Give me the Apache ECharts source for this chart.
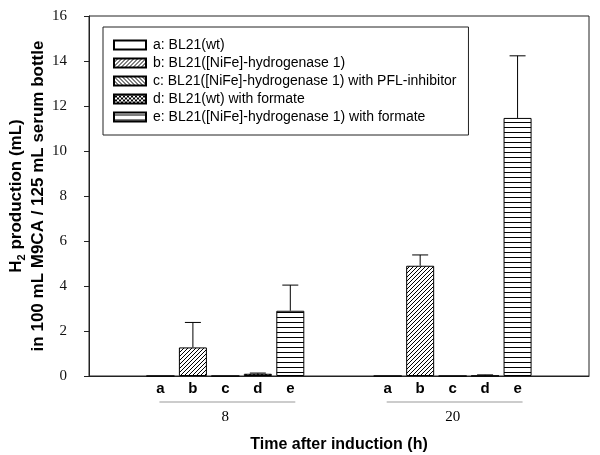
<!DOCTYPE html>
<html>
<head>
<meta charset="utf-8">
<script src="https://cdn.jsdelivr.net/npm/echarts@6/dist/echarts.min.js"></script>
<style>
  html, body { margin: 0; padding: 0; background: #fff; }
  #chart { width: 600px; height: 455px; }
</style>
</head>
<body>
<div id="chart"></div>
<script>
// ---------- data ----------
const groups = ['8', '20'];                       // time after induction (h)
const letters = ['a', 'b', 'c', 'd', 'e'];
const legendNames = [
  'a: BL21(wt)',
  'b: BL21([NiFe]-hydrogenase 1)',
  'c: BL21([NiFe]-hydrogenase 1) with PFL-inhibitor',
  'd: BL21(wt) with formate',
  'e: BL21([NiFe]-hydrogenase 1) with formate'
];
const meanA = [0, 0];
const meanB = [1.27, 4.9];
const meanC = [0, 0];
const meanD = [0.1, 0.01];
const meanE = [2.9, 11.47];
const errA = [0, 0];
const errB = [1.11, 0.48];
const errC = [0, 0];
const errD = [0.03, 0.04];
const errE = [1.14, 2.76];
const yTicks = [0, 2, 4, 6, 8, 10, 12, 14, 16];

const means = [meanA, meanB, meanC, meanD, meanE];
const errs = [errA, errB, errC, errD, errE];

// ---------- layout helpers ----------
const groupSpan = 7;   // slots per group (5 bars + 2 gap)
function pos(gi, li) { return gi * groupSpan + li; }

// ---------- patterns ----------
function makePattern(kind) {
  const c = document.createElement('canvas');
  let w = 4, h = 4;
  if (kind === 'e') { w = 4; h = 5; }
  c.width = w; c.height = h;
  const ctx = c.getContext('2d');
  ctx.fillStyle = '#fff';
  ctx.fillRect(0, 0, w, h);
  ctx.fillStyle = '#000';
  if (kind === 'b') {
    for (let i = 0; i < 4; i++) ctx.fillRect(3 - i, i, 1, 1);
  } else if (kind === 'c') {
    for (let i = 0; i < 4; i++) ctx.fillRect(i, i, 1, 1);
  } else if (kind === 'd') {
    for (let i = 0; i < 4; i++) { ctx.fillRect(i, i, 1, 1); ctx.fillRect(3 - i, i, 1, 1); }
  } else if (kind === 'e') {
    ctx.fillRect(0, 2, w, 1);
  }
  return { image: c, repeat: 'repeat' };
}

const barSeries = letters.map((l, li) => ({
  name: legendNames[li],
  type: 'bar',
  barWidth: 28,
  barGap: '-100%',
  data: groups.map((g, gi) => [pos(gi, li), means[li][gi]]),
  itemStyle: {
    color: makePattern(l),
    borderColor: '#000',
    borderWidth: 1
  },
  emphasis: { disabled: true },
  animation: false,
  z: 2
}));

const errData = [];
letters.forEach((l, li) => {
  groups.forEach((g, gi) => {
    if (errs[li][gi] > 0) errData.push([pos(gi, li), means[li][gi], means[li][gi] + errs[li][gi]]);
  });
});

const errSeries = {
  type: 'custom',
  name: 'err',
  data: errData,
  z: 3,
  animation: false,
  renderItem: function (params, api) {
    const x = api.value(0);
    const p1 = api.coord([x, api.value(1)]);
    const p2 = api.coord([x, api.value(2)]);
    const cap = 8;
    const st = { stroke: '#000', lineWidth: 1 };
    return {
      type: 'group',
      children: [
        { type: 'line', shape: { x1: p1[0], y1: p1[1], x2: p2[0], y2: p2[1] }, style: st },
        { type: 'line', shape: { x1: p2[0] - cap, y1: p2[1], x2: p2[0] + cap, y2: p2[1] }, style: st }
      ]
    };
  }
};

const underlineSeries = {
  type: 'custom',
  name: 'underline',
  clip: false,
  z: 3,
  animation: false,
  data: groups.map((g, gi) => [pos(gi, 0), pos(gi, letters.length - 1)]),
  renderItem: function (params, api) {
    const a = api.coord([api.value(0), 0]);
    const b = api.coord([api.value(1), 0]);
    return {
      type: 'line',
      shape: { x1: a[0] - 1, y1: a[1] + 26, x2: b[0] + 5, y2: b[1] + 26 },
      style: { stroke: '#999', lineWidth: 1 }
    };
  }
};

const letterValues = [];
const letterMap = {};
groups.forEach((g, gi) => letters.forEach((l, li) => { letterValues.push(pos(gi, li)); letterMap[pos(gi, li)] = l; }));
const groupValues = groups.map((g, gi) => pos(gi, 2));
const groupMap = {};
groups.forEach((g, gi) => { groupMap[pos(gi, 2)] = g; });

const chart = echarts.init(document.getElementById('chart'), null, { renderer: 'canvas' });
chart.setOption({
  animation: false,
  backgroundColor: '#fff',
  grid: {
    left: 89, top: 16, width: 500, height: 360,
    containLabel: false,
    outerBoundsMode: 'none',
    show: true, borderColor: '#222', borderWidth: 1, backgroundColor: 'transparent'
  },
  legend: {
    data: legendNames,
    orient: 'vertical',
    left: 103, top: 27,
    padding: [11, 12, 11, 10],
    borderColor: '#222', borderWidth: 1,
    icon: 'rect',
    itemWidth: 32, itemHeight: 9, itemGap: 4,
    selectedMode: false,
    textStyle: { fontFamily: 'Liberation Sans', fontSize: 14, color: '#000', lineHeight: 14, padding: [0, 0, 0, 2] }
  },
  xAxis: [
    {
      type: 'value', min: -2.2, max: 13.2,
      axisLine: { show: true, lineStyle: { color: '#222' } },
      axisTick: { show: false },
      splitLine: { show: false },
      axisLabel: {
        customValues: letterValues,
        formatter: v => letterMap[v] || '',
        margin: 5,
        fontFamily: 'Liberation Sans', fontWeight: 'bold', fontSize: 15, color: '#000'
      }
    },
    {
      type: 'value', min: -2.2, max: 13.2, position: 'bottom', offset: 0,
      axisLine: { show: false },
      axisTick: { show: false },
      splitLine: { show: false },
      axisLabel: {
        customValues: groupValues,
        formatter: v => groupMap[v] || '',
        margin: 34,
        fontFamily: 'Liberation Serif', fontSize: 15, color: '#000'
      },
      name: 'Time after induction (h)',
      nameLocation: 'middle',
      nameGap: 61,
      nameMoveOverlap: false,
      nameTextStyle: { fontFamily: 'Liberation Sans', fontWeight: 'bold', fontSize: 16, color: '#000' }
    }
  ],
  yAxis: {
    type: 'value', min: 0, max: 16, interval: 2,
    axisLine: { show: true, onZero: false, lineStyle: { color: '#222' } },
    axisTick: { show: true, inside: false, length: 5, lineStyle: { color: '#222' } },
    splitLine: { show: false },
    axisLabel: {
      margin: 22, fontFamily: 'Liberation Serif', fontSize: 15, color: '#111',
      customValues: yTicks
    },
    name: '{b|H}{s|2}{b| production (mL)}\n{b|in 100 mL M9CA / 125 mL serum bottle}',
    nameLocation: 'middle',
    nameRotate: 90,
    nameGap: 40,
    nameMoveOverlap: false,
    nameTextStyle: {
      fontFamily: 'Liberation Sans', fontWeight: 'bold', fontSize: 17, color: '#000', lineHeight: 22,
      rich: {
        b: { fontFamily: 'Liberation Sans', fontWeight: 'bold', fontSize: 17, color: '#000', lineHeight: 22 },
        s: { fontFamily: 'Liberation Sans', fontWeight: 'bold', fontSize: 11, color: '#000', lineHeight: 22, verticalAlign: 'bottom' }
      }
    }
  },
  series: barSeries.concat([errSeries, underlineSeries])
});
</script>
</body>
</html>
